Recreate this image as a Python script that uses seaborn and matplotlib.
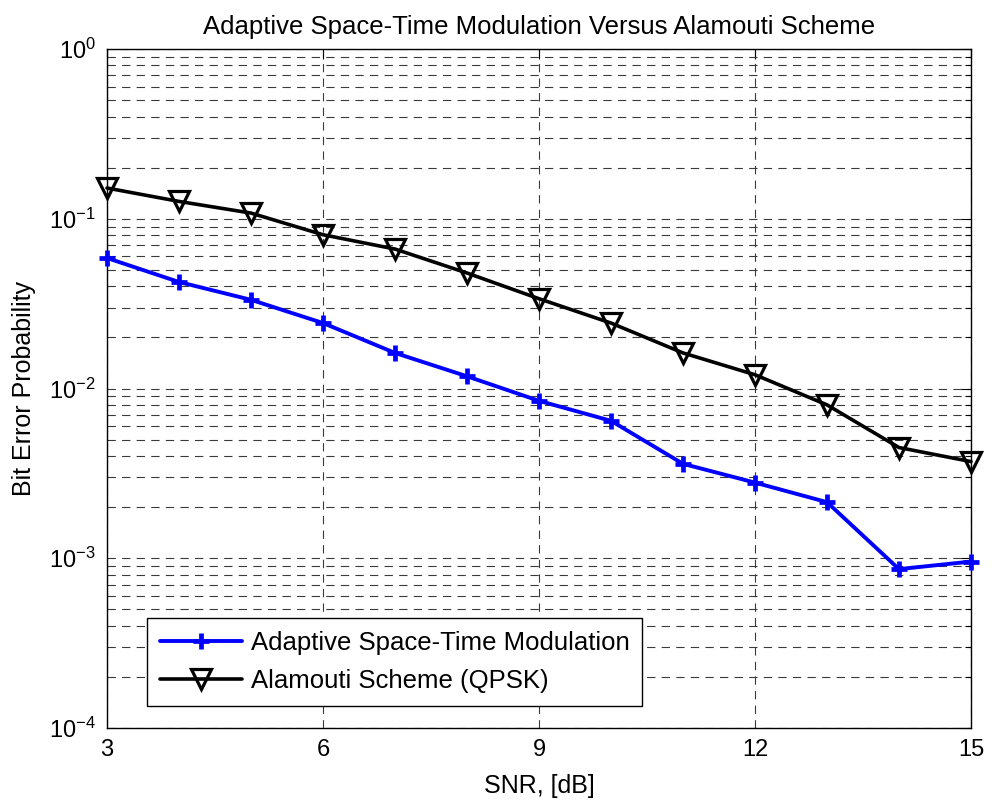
import numpy as np
import pandas as pd
import matplotlib
matplotlib.use("Agg")
import matplotlib.pyplot as plt
import seaborn as sns
from matplotlib.ticker import LogLocator, FixedLocator

snr_db = [3, 4, 5, 6, 7, 8, 9, 10, 11, 12, 13, 14, 15]
adaptive_ber = [0.0587, 0.0424, 0.0333, 0.0243, 0.0162, 0.0118, 0.00846,
                0.00645, 0.00360, 0.00279, 0.00214, 0.000863, 0.000956]
alamouti_ber = [0.1517, 0.1265, 0.108, 0.0805, 0.0663, 0.0479, 0.0338,
                0.0243, 0.0162, 0.01205, 0.00801, 0.00449, 0.00371]
series_names = ["Adaptive Space-Time Modulation", "Alamouti Scheme (QPSK)"]
x_ticks = [3, 6, 9, 12, 15]
title_text = "Adaptive Space-Time Modulation Versus Alamouti Scheme"
x_label = "SNR, [dB]"
y_label = "Bit Error Probability"

sns.set_style("white")
plt.rcParams["font.family"] = ["Liberation Sans", "DejaVu Sans"]
plt.rcParams["mathtext.fontset"] = "custom"
plt.rcParams["mathtext.rm"] = "Liberation Sans"
plt.rcParams["mathtext.it"] = "Liberation Sans:italic"
plt.rcParams["mathtext.bf"] = "Liberation Sans:bold"
plt.rcParams["lines.scale_dashes"] = False
plt.rcParams["text.color"] = "black"
plt.rcParams["axes.labelcolor"] = "black"
plt.rcParams["xtick.color"] = "black"
plt.rcParams["ytick.color"] = "black"

fig = plt.figure(figsize=(9.95, 8), dpi=100)
ax = fig.add_axes([107 / 995, 72 / 800, 864 / 995, 679 / 800])

df = pd.DataFrame({"snr": snr_db, "adaptive": adaptive_ber, "alamouti": alamouti_ber})

sns.lineplot(data=df, x="snr", y="adaptive", ax=ax, color="#0000ff", linewidth=2.8,
             marker="+", markersize=12, markeredgewidth=3.4, markeredgecolor="#0000ff",
             label=series_names[0], clip_on=False, zorder=4)
sns.lineplot(data=df, x="snr", y="alamouti", ax=ax, color="black", linewidth=2.6,
             marker="v", markersize=14, markeredgewidth=2.3, markerfacecolor="none",
             markeredgecolor="black", label=series_names[1], clip_on=False, zorder=4)

ax.set_yscale("log")
ax.set_xlim(3, 15)
ax.set_ylim(1e-4, 1)
ax.xaxis.set_major_locator(FixedLocator(x_ticks))
ax.set_xticklabels([str(t) for t in x_ticks])
ax.yaxis.set_major_locator(LogLocator(base=10, numticks=10))
ax.yaxis.set_minor_locator(LogLocator(base=10, subs=np.arange(2, 10), numticks=20))

grid_kw = dict(color="#3a3a3a", linestyle=(0, (6, 4.5)), linewidth=0.8)
ax.grid(True, which="major", axis="both", **grid_kw)
ax.grid(True, which="minor", axis="y", **grid_kw)
ax.set_axisbelow(True)

ax.tick_params(which="both", direction="in", top=True, right=True, colors="black",
               labelsize=17)
ax.tick_params(which="major", length=7, width=0.8, pad=8)
ax.tick_params(which="minor", length=4, width=0.8)
for s in ax.spines.values():
    s.set_color("black")
    s.set_linewidth(1.0)

ax.set_title(title_text, fontsize=18.5, pad=11, color="black")
ax.set_xlabel(x_label, fontsize=18, labelpad=9)
ax.set_ylabel(y_label, fontsize=18, labelpad=9)

leg = ax.legend(loc="lower left", bbox_to_anchor=(0.046, 0.032), borderaxespad=0,
                fontsize=18.5, frameon=True, fancybox=False, handlelength=3.2,
                handletextpad=0.35, borderpad=0.5, labelspacing=0.55)
leg.get_frame().set_edgecolor("black")
leg.get_frame().set_linewidth(1.0)
leg.get_frame().set_alpha(1)
leg.set_zorder(6)

fig.savefig("out.png", dpi=100, facecolor="white")
